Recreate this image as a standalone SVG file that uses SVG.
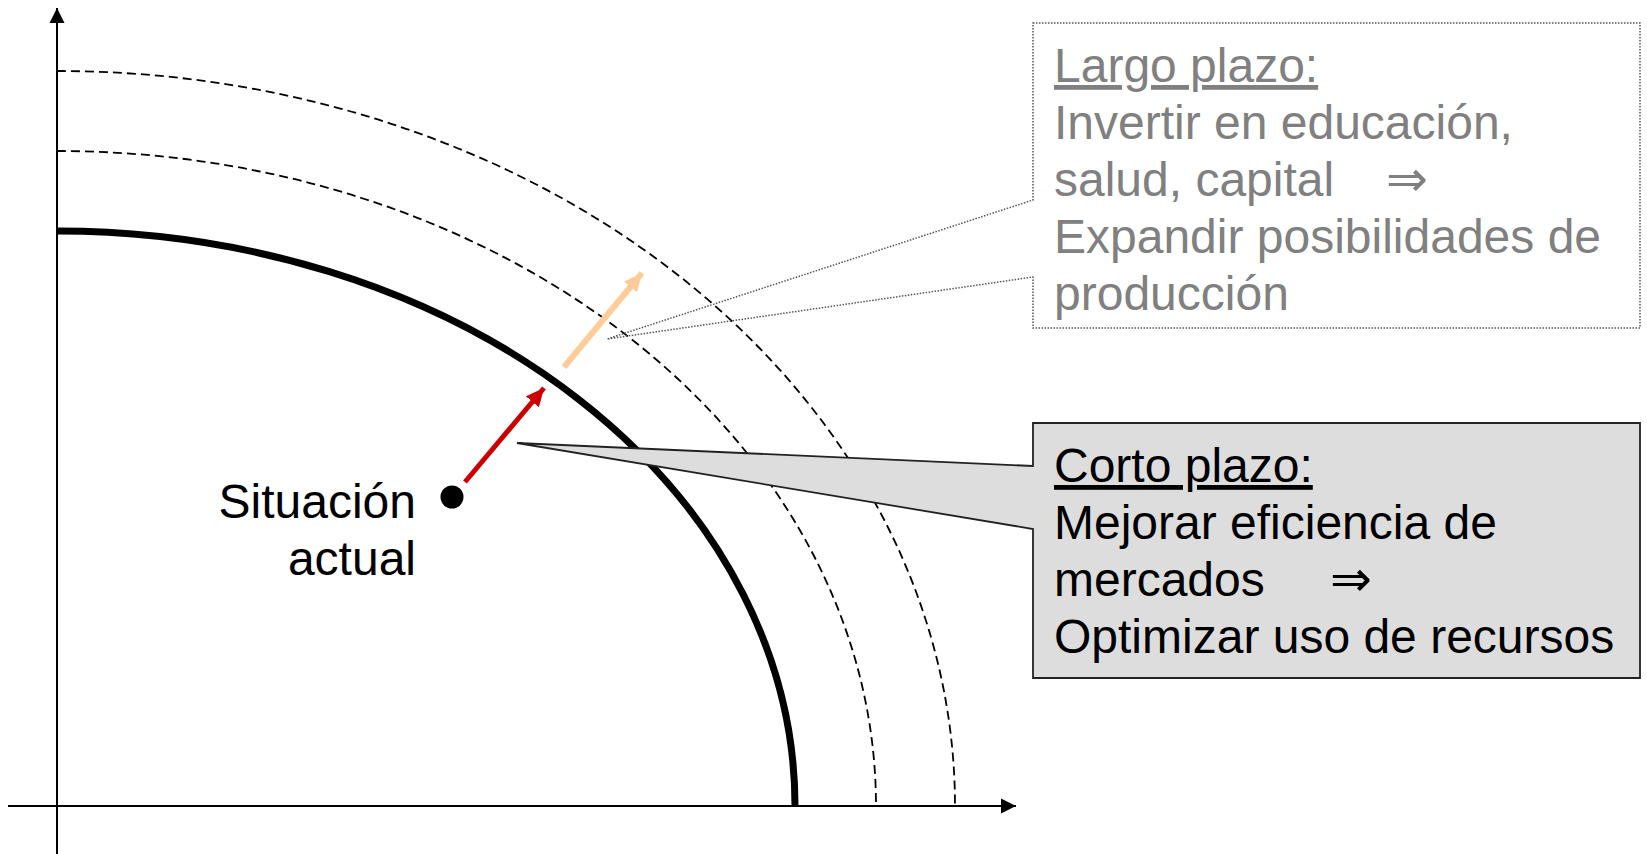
<svg xmlns="http://www.w3.org/2000/svg" width="1647" height="854" viewBox="0 0 1647 854">
<style>
.txt{font-family:"Liberation Sans",Arial,"DejaVu Sans",sans-serif;font-size:48px}
.arr{font-family:"DejaVu Sans",sans-serif;font-size:50px}
.gray{fill:#808080}
.blk{fill:#000}
.dash{fill:none;stroke:#000;stroke-width:1.8;stroke-dasharray:9 5}
.axis{stroke:#000;stroke-width:2;fill:none}
</style>
<defs>
<marker id="axhead" markerWidth="16" markerHeight="16" refX="0" refY="0" viewBox="-15 -8 16 16" orient="auto" markerUnits="userSpaceOnUse">
<path d="M-15,-7.5 L0,0 L-15,7.5 Z" fill="#000"/>
</marker>
<marker id="redhead" viewBox="-18 -9 19 18" refX="0" refY="0" markerWidth="19" markerHeight="18" orient="auto" markerUnits="userSpaceOnUse">
<path d="M-18,-8.5 L0,0 L-18,8.5 Z" fill="#cc0000"/>
</marker>
<marker id="orangehead" viewBox="-18 -9 19 18" refX="0" refY="0" markerWidth="19" markerHeight="18" orient="auto" markerUnits="userSpaceOnUse">
<path d="M-18,-8.5 L0,0 L-18,8.5 Z" fill="#ffcc99"/>
</marker>
</defs>
<g id="axes">
<line class="axis" x1="57" y1="854" x2="57" y2="8" marker-end="url(#axhead)"/>
<line class="axis" x1="8" y1="806" x2="1016" y2="806" marker-end="url(#axhead)"/>
</g>
<g id="curves">
<path class="dash" d="M57,71 A898,735 0 0 1 955,806"/>
<path class="dash" d="M57,151 A819,655 0 0 1 876,806"/>
<path d="M57,231 A738,575 0 0 1 795,806" fill="none" stroke="#000" stroke-width="7"/>
</g>
<g id="callout-largo">
<path d="M1033,23 L1640,23 L1640,328 L1033,328 L1033,277 L607,339 L1033,200 Z" fill="none" stroke="#555" stroke-width="1.5" stroke-dasharray="1.5 1.5"/>
<text class="txt gray" x="1054" y="82" text-decoration="underline">Largo plazo:</text>
<text class="txt gray" x="1054" y="139">Invertir en educación,</text>
<text class="txt gray" x="1054" y="196">salud, capital<tspan class="arr" x="1386">⇒</tspan></text>
<text class="txt gray" x="1054" y="253">Expandir posibilidades de</text>
<text class="txt gray" x="1054" y="310">producción</text>
</g>
<g id="connectors">
<line x1="564" y1="367" x2="642" y2="273" stroke="#ffcc99" stroke-width="6" marker-end="url(#orangehead)"/>
<line x1="465" y1="482" x2="544" y2="388" stroke="#cc0000" stroke-width="5" marker-end="url(#redhead)"/>
</g>
<g id="callout-corto">
<path d="M1033,423 L1640,423 L1640,678 L1033,678 L1033,529 L517,443 L1033,466 Z" fill="#dddddd" stroke="#222" stroke-width="1.8"/>
<text class="txt blk" x="1054" y="482" text-decoration="underline">Corto plazo:</text>
<text class="txt blk" x="1054" y="539">Mejorar eficiencia de</text>
<text class="txt blk" x="1054" y="596">mercados<tspan class="arr" x="1330">⇒</tspan></text>
<text class="txt blk" x="1054" y="653">Optimizar uso de recursos</text>
</g>
<g id="situacion">
<circle cx="452" cy="497" r="11.5" fill="#000"/>
<text class="txt blk" x="416" y="518" text-anchor="end">Situación</text>
<text class="txt blk" x="416" y="575" text-anchor="end">actual</text>
</g>
</svg>
